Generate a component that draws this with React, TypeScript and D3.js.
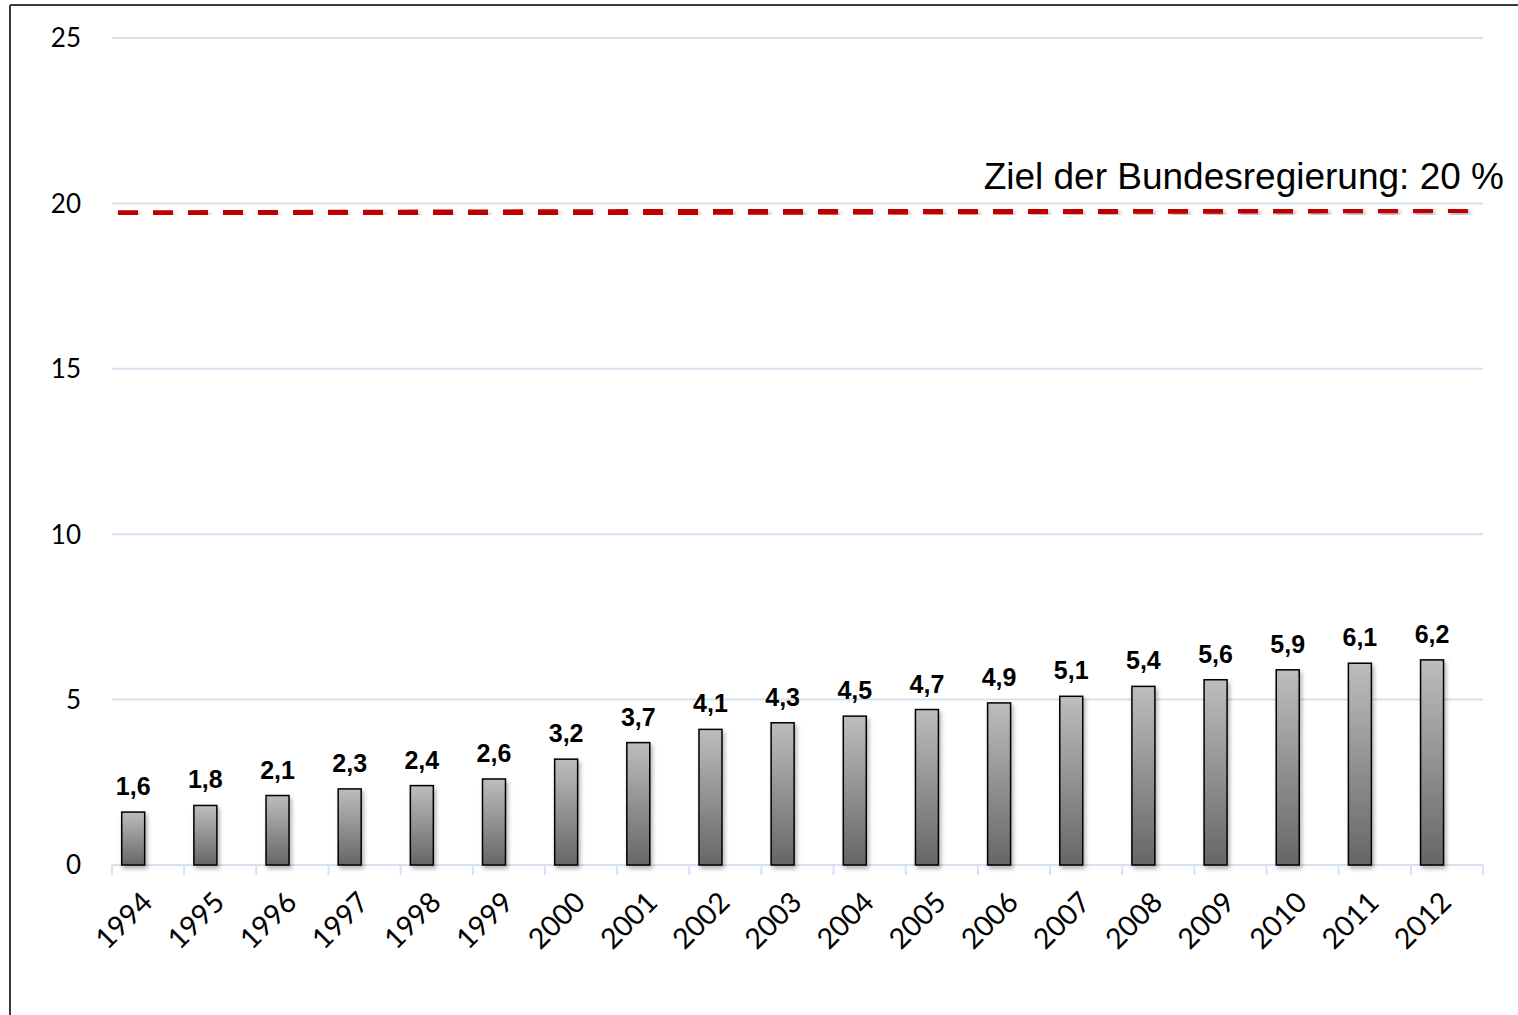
import React from "react";
import * as d3 from "d3";

const width = 1518;
const height = 1015;
const margin = { top: 38, right: 35, bottom: 150, left: 112 };

const years = ["1994", "1995", "1996", "1997", "1998", "1999", "2000", "2001", "2002", "2003", "2004", "2005", "2006", "2007", "2008", "2009", "2010", "2011", "2012"];
const shares = [1.6, 1.8, 2.1, 2.3, 2.4, 2.6, 3.2, 3.7, 4.1, 4.3, 4.5, 4.7, 4.9, 5.1, 5.4, 5.6, 5.9, 6.1, 6.2];
const yTicks = [0, 5, 10, 15, 20, 25];
// target line is drawn slightly tilted in the original
const targetValues = [19.7, 19.8];
const targetLabel = "Ziel der Bundesregierung: 20 %";

const gridColor = "#d6e2f2";

export default function App() {
  const innerW = width - margin.left - margin.right;
  const innerH = height - margin.top - margin.bottom;

  const x = d3.scaleBand().domain(years).range([0, innerW]).padding(0);
  // two slots per year, only the first one holds a bar
  const slot = d3.scaleBand().domain(["share", "empty"]).range([0, x.bandwidth()]).paddingInner(0.1).paddingOuter(0.35);
  const y = d3.scaleLinear().domain([0, 25]).range([innerH, 0]);

  const fmt = (v: number) => d3.format(".1f")(v).replace(".", ",");

  const tx = d3.scaleLinear().domain([0, 1]).range([6, innerW - 10]);
  const line = d3
    .line<number>()
    .x((_, i) => tx(i))
    .y((d) => y(d));

  const ticksX = years.map((yr) => x(yr) as number).concat([innerW]);

  return (
    <svg width={width} height={height} style={{ position: "absolute", left: 0, top: 0, background: "#fff" }}>
      <defs>
        <linearGradient id="barGrad" x1="0" y1="0" x2="0" y2="1">
          <stop offset="0%" stopColor="#bdbdbd" />
          <stop offset="100%" stopColor="#666666" />
        </linearGradient>
        <filter id="shadow" x="-30%" y="-30%" width="160%" height="160%">
          <feDropShadow dx="2" dy="3" stdDeviation="2" floodColor="#000" floodOpacity="0.3" />
        </filter>
      </defs>

      <line x1={10} x2={width} y1={5} y2={5} stroke="#3a3a3a" strokeWidth={2} />
      <line x1={10} x2={10} y1={5} y2={height} stroke="#3a3a3a" strokeWidth={2} />

      <g transform={`translate(${margin.left},${margin.top})`}>
        {yTicks.map((t) => (
          <g key={t}>
            {t > 0 && <line x1={0} x2={innerW} y1={y(t)} y2={y(t)} stroke={gridColor} strokeWidth={2} />}
            <text x={-31} y={y(t)} dy="0.36em" textAnchor="end" fontFamily="Lato, 'Open Sans', sans-serif" fontSize={26} fill="#000">
              {t}
            </text>
          </g>
        ))}

        <line x1={0} x2={innerW} y1={innerH} y2={innerH} stroke={gridColor} strokeWidth={2} />
        {ticksX.map((tX, i) => (
          <line key={i} x1={tX} x2={tX} y1={innerH} y2={innerH + 10} stroke={gridColor} strokeWidth={2} />
        ))}

        {years.map((yr, i) => {
          const bx = (x(yr) as number) + (slot("share") as number);
          const bw = slot.bandwidth() - 2;
          const v = shares[i];
          return (
            <g key={yr}>
              <rect
                x={bx}
                y={y(v)}
                width={bw}
                height={innerH - y(v)}
                fill="url(#barGrad)"
                stroke="#000"
                strokeWidth={1.5}
                filter="url(#shadow)"
              />
              <text
                x={bx + bw / 2}
                y={y(v) - 17}
                textAnchor="middle"
                fontFamily="Arial, 'Liberation Sans', sans-serif"
                fontWeight="bold"
                fontSize={25}
                fill="#000"
              >
                {fmt(v)}
              </text>
            </g>
          );
        })}

        {years.map((yr) => {
          const cx = (x(yr) as number) + x.bandwidth() / 2;
          return (
            <text
              key={yr}
              transform={`translate(${cx + 6},${innerH + 39}) rotate(-45)`}
              textAnchor="end"
              fontFamily="Lato, 'Open Sans', sans-serif"
              fontSize={28.5}
              fill="#000"
            >
              {yr}
            </text>
          );
        })}

        <path
          d={line(targetValues) as string}
          fill="none"
          stroke="#c00000"
          strokeWidth={6}
          strokeDasharray="20 15"
          filter="url(#shadow)"
        />
        <text
          x={innerW + 21}
          y={y(20) - 14}
          textAnchor="end"
          fontFamily="Arial, 'Liberation Sans', sans-serif"
          fontSize={37}
          fill="#000"
        >
          {targetLabel}
        </text>
      </g>
    </svg>
  );
}
